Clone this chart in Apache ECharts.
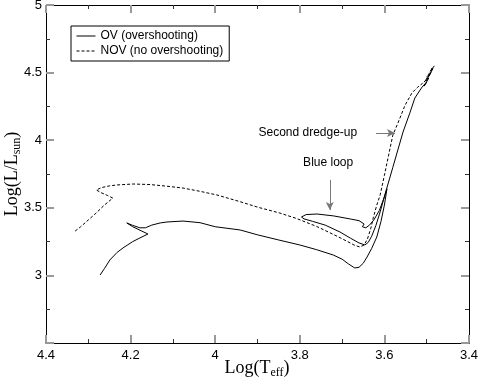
<!DOCTYPE html>
<html>
<head>
<meta charset="utf-8">
<script src="https://cdn.jsdelivr.net/npm/echarts@6/dist/echarts.min.js"></script>
<style>
  html, body { margin: 0; padding: 0; background: #fff; }
  #chart { width: 479px; height: 382px; }
</style>
</head>
<body>
<div id="chart"></div>
<script>
// Evolutionary tracks: log Teff and log L per point.
const ovLogT = [4.272, 4.262, 4.249, 4.232, 4.218, 4.195, 4.178, 4.159, 4.175, 4.195, 4.209, 4.195, 4.178, 4.165, 4.150, 4.130, 4.114, 4.076, 4.036, 4.000,
  3.941, 3.900, 3.850, 3.800, 3.760, 3.721, 3.700, 3.685, 3.670, 3.660, 3.650, 3.641, 3.630, 3.618, 3.608, 3.600, 3.594, 3.600, 3.612, 3.625,
  3.636, 3.644, 3.652, 3.648, 3.660, 3.680, 3.720, 3.759, 3.785, 3.796, 3.790, 3.770, 3.740, 3.705, 3.680, 3.660, 3.646, 3.638, 3.630, 3.620,
  3.610, 3.599, 3.580, 3.556, 3.540, 3.528, 3.511, 3.500, 3.506, 3.495, 3.501, 3.490, 3.496, 3.485, 3.492, 3.482];
const ovLogL = [3.003, 3.050, 3.114, 3.170, 3.203, 3.250, 3.277, 3.306, 3.330, 3.360, 3.388, 3.370, 3.352, 3.352, 3.372, 3.388, 3.395, 3.402, 3.390, 3.360,
  3.336, 3.300, 3.262, 3.225, 3.190, 3.151, 3.120, 3.085, 3.055, 3.060, 3.090, 3.136, 3.200, 3.284, 3.400, 3.520, 3.640, 3.580, 3.480, 3.410,
  3.370, 3.352, 3.360, 3.380, 3.405, 3.417, 3.440, 3.454, 3.450, 3.432, 3.418, 3.400, 3.372, 3.321, 3.275, 3.240, 3.225, 3.245, 3.290, 3.370,
  3.470, 3.595, 3.800, 4.060, 4.200, 4.312, 4.393, 4.430, 4.400, 4.460, 4.440, 4.500, 4.470, 4.530, 4.510, 4.550];

const novLogT = [4.331, 4.318, 4.300, 4.282, 4.262, 4.242, 4.255, 4.270, 4.281, 4.268, 4.250, 4.232, 4.194, 4.154, 4.115, 4.076, 4.036, 3.996, 3.941, 3.900,
  3.847, 3.807, 3.760, 3.712, 3.690, 3.672, 3.658, 3.648, 3.640, 3.632, 3.626, 3.618, 3.610, 3.600, 3.590, 3.580, 3.565, 3.551, 3.535, 3.521,
  3.510, 3.500, 3.506, 3.495, 3.500, 3.490, 3.494, 3.487];
const novLogL = [3.328, 3.360, 3.410, 3.460, 3.520, 3.572, 3.592, 3.612, 3.632, 3.650, 3.662, 3.669, 3.676, 3.672, 3.660, 3.646, 3.622, 3.595, 3.545, 3.505,
  3.461, 3.420, 3.362, 3.290, 3.255, 3.225, 3.210, 3.225, 3.270, 3.350, 3.430, 3.520, 3.595, 3.740, 3.890, 4.038, 4.150, 4.260, 4.349, 4.393,
  4.420, 4.450, 4.430, 4.480, 4.470, 4.510, 4.500, 4.541];

const seriesNames = ['OV (overshooting)', 'NOV (no overshooting)'];
const xTitle = '{a|Log(T}{s|eff}{a|)}';
const yTitle = '{a|Log(L/L}{s|sun}{a|)}';

// Annotations: text and arrow ends in data coordinates.
const dredgeText = 'Second dredge-up';
const dredgeTextAt = [3.781, 4.053];
const dredgeArrow = [[3.620, 4.053], [3.575, 4.053]];
const loopText = 'Blue loop';
const loopTextAt = [3.733, 3.831];
const loopArrow = [[3.729, 3.706], [3.729, 3.484]];

const zip = (a, b) => a.map((v, i) => [v, b[i]]);

const sans = 'Liberation Sans';
const serif = 'Liberation Serif';

const nameRich = {
  a: { fontFamily: serif, fontSize: 18, lineHeight: 22, fill: '#000', color: '#000' },
  s: { fontFamily: serif, fontSize: 12, lineHeight: 12, verticalAlign: 'bottom', fill: '#000', color: '#000' }
};

function baseAxis(extra) {
  return Object.assign({
    type: 'value',
    axisLine: { show: true, onZero: false, lineStyle: { color: '#000', width: 1 } },
    axisTick: { show: true, inside: true, length: 8, lineStyle: { color: '#999', width: 2 } },
    minorTick: { show: true, splitNumber: 2, length: 4, lineStyle: { color: '#333', width: 1 } },
    splitLine: { show: false },
    axisLabel: { show: false }
  }, extra);
}

let chart = echarts.init(document.getElementById('chart'));

let option = {
  animation: false,
  backgroundColor: '#fff',
  grid: { left: 46, right: 10, top: 5, bottom: 39, containLabel: false, outerBoundsMode: 'none' },
  legend: {
    data: seriesNames,
    orient: 'vertical',
    left: 71,
    top: 26,
    padding: [4, 6, 4, 5],
    itemGap: 3,
    itemWidth: 19,
    itemHeight: 14,
    borderColor: '#000',
    borderWidth: 1,
    itemStyle: { opacity: 0 },
    lineStyle: { width: 1 },
    textStyle: { fontFamily: sans, fontSize: 12, color: '#000' }
  },
  // Axis titles with subscripts.
  graphic: [
    { type: 'text', x: 257, y: 368, silent: true,
      style: { text: xTitle, rich: nameRich, align: 'center', verticalAlign: 'middle' } },
    { type: 'text', x: 12, y: 174, rotation: Math.PI / 2, silent: true,
      style: { text: yTitle, rich: nameRich, align: 'center', verticalAlign: 'middle' } }
  ],
  xAxis: [
    baseAxis({
      min: 3.4, max: 4.4, interval: 0.2, inverse: true, position: 'bottom',
      axisLabel: { show: true, margin: 6, fontFamily: sans, fontSize: 13, color: '#000',
        formatter: v => String(+v.toFixed(1)) }
    }),
    baseAxis({ min: 3.4, max: 4.4, interval: 0.2, inverse: true, position: 'top' })
  ],
  yAxis: [
    baseAxis({
      min: 2.5, max: 5, interval: 0.5, position: 'left',
      axisLabel: { show: true, margin: 4, fontFamily: sans, fontSize: 13, color: '#000',
        formatter: v => (v === 2.5 ? '' : String(+v.toFixed(1))) }
    }),
    baseAxis({ min: 2.5, max: 5, interval: 0.5, position: 'right' })
  ],
  series: [
    {
      name: seriesNames[0],
      type: 'line',
      data: zip(ovLogT, ovLogL),
      showSymbol: false,
      symbol: 'none',
      lineStyle: { color: '#000', width: 1, type: 'solid' },
      itemStyle: { color: '#000' }
    },
    {
      name: seriesNames[1],
      type: 'line',
      data: zip(novLogT, novLogL),
      showSymbol: false,
      symbol: 'none',
      lineStyle: { color: '#000', width: 1, type: [3, 2] },
      itemStyle: { color: '#000' }
    },
    {
      name: 'annotations',
      type: 'line',
      data: [],
      silent: true,
      markLine: {
        silent: true,
        symbol: ['none', 'arrow'],
        symbolSize: [6, 8],
        label: { show: false },
        lineStyle: { color: '#777', width: 1, type: 'solid' },
        data: [
          [{ coord: dredgeArrow[0] }, { coord: dredgeArrow[1] }],
          [{ coord: loopArrow[0] }, { coord: loopArrow[1] }]
        ]
      },
      markPoint: {
        silent: true,
        symbol: 'circle',
        symbolSize: 1,
        itemStyle: { color: 'rgba(0,0,0,0)' },
        label: { show: true, position: 'inside', formatter: '{b}',
          fontFamily: sans, fontSize: 12, color: '#000' },
        data: [
          { name: dredgeText, coord: dredgeTextAt },
          { name: loopText, coord: loopTextAt }
        ]
      }
    }
  ]
};

chart.setOption(option);
window.onresize = () => chart.resize();
</script>
</body>
</html>
